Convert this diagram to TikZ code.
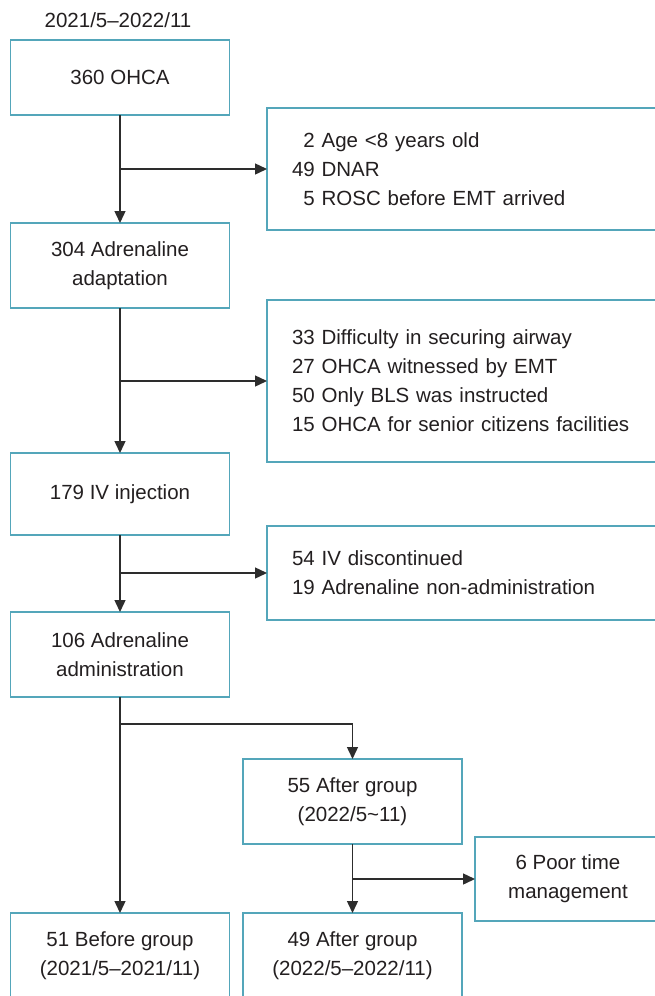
\documentclass[tikz,border=0pt]{standalone}
\usepackage{fontspec}
\setmainfont{Liberation Sans}
\usetikzlibrary{positioning,arrows.meta}
\definecolor{boxline}{RGB}{84,166,186}
\definecolor{txtgray}{RGB}{35,31,32}
\definecolor{arrgray}{RGB}{45,45,45}

\begin{document}
\begin{tikzpicture}[x=1pt,y=-1pt,
  every node/.style={text=txtgray,font=\fontsize{20.5}{29}\selectfont},
  flowbox/.style={draw=boxline,line width=1.4pt,fill=white,minimum width=219pt,align=center,inner sep=0pt,outer sep=0pt},
  sidebox/.style={draw=boxline,line width=1.4pt,fill=white,anchor=north west,align=left,inner ysep=0pt,inner xsep=25pt,outer sep=0pt,text width=383pt},
  flow/.style={draw=arrgray,line width=1.4pt,-{Triangle[length=12pt,width=11pt]}}]
\path[use as bounding box] (0,0) rectangle (655,996);
\clip (0,0) rectangle (655,996);
%% period of the study
\node (period) at (118,20) {2021/5--2022/11};
%the main column
\node [flowbox,minimum height=75pt] (ohca) at (120,77.5) {360 OHCA};
\node [flowbox,minimum height=85pt,below=108pt of ohca] (adapt) {304 Adrenaline\\adaptation};
\node [flowbox,minimum height=82pt,below=145pt of adapt] (iv) {179 IV injection};
\node [flowbox,minimum height=85pt,below=77pt of iv] (admin) {106 Adrenaline\\administration};
\node [flowbox,minimum height=85pt,below=216pt of admin] (before) {51 Before group\\(2021/5--2021/11)};
%the after branch
\node [flowbox,minimum height=85pt] (after) at (352.5,801.5) {55 After group\\(2022/5\textasciitilde11)};
\node [flowbox,minimum height=85pt,below=69pt of after] (afterFinal) {49 After group\\(2022/5--2022/11)};
%the excluded boxes
\node [sidebox,minimum height=122pt] (exclOne) at (267,108) {\phantom{4}2 Age <8 years old\\49 DNAR\\\phantom{4}5 ROSC before EMT arrived};
\node [sidebox,minimum height=162pt] (exclTwo) at (267,300) {33 Difficulty in securing airway\\27 OHCA witnessed by EMT\\50 Only BLS was instructed\\15 OHCA for senior citizens facilities};
\node [sidebox,minimum height=94pt] (exclThree) at (267,526) {54 IV discontinued\\19 Adrenaline non-administration};
\node [flowbox,anchor=north west,minimum width=186pt,minimum height=84pt] (poor) at (475,837) {6 Poor time\\management};
%drawings of lines
\draw[flow] (ohca) -- (adapt);
\coordinate (splitOne) at (ohca.south |- exclOne.west);
\draw[flow] (splitOne) -- (exclOne.west);

\draw[flow] (adapt) -- (iv);
\coordinate (splitTwo) at (adapt.south |- exclTwo.west);
\draw[flow] (splitTwo) -- (exclTwo.west);

\draw[flow] (iv) -- (admin);
\coordinate (splitThree) at (iv.south |- exclThree.west);
\draw[flow] (splitThree) -- (exclThree.west);

\draw[flow] (admin) -- (before);
\draw[flow] (admin.south) -- ++(0,27) -| (after.north);

\draw[flow] (after) -- (afterFinal);
\coordinate (splitFour) at (after.south |- poor.west);
\draw[flow] (splitFour) -- (poor.west);
\end{tikzpicture}
\end{document}
